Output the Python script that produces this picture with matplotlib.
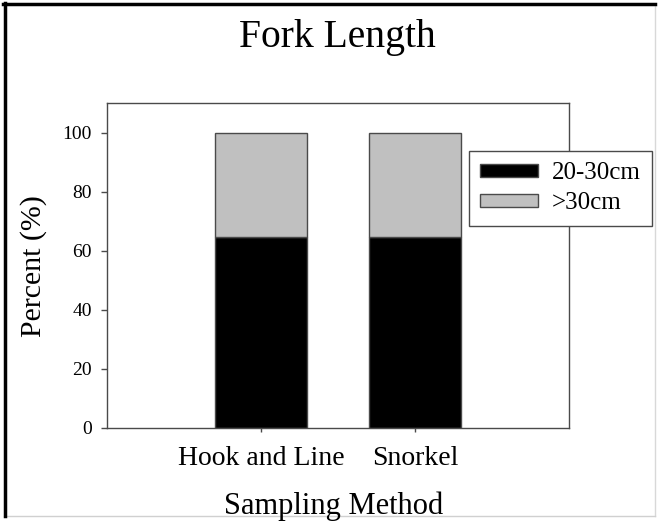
import matplotlib
matplotlib.use("Agg")
import matplotlib.pyplot as plt
from matplotlib.lines import Line2D
import numpy as np

categories = ["Hook and Line", "Snorkel"]
small = [64.5, 64.6]      # 20-30cm
large = [35.2, 35.4]      # >30cm
series_labels = ["20-30cm", ">30cm"]
yticks = [0, 20, 40, 60, 80, 100]

W, H = 660, 527
fig = plt.figure(figsize=(W / 100, H / 100), dpi=100)
plt.rcParams['font.family'] = ['Liberation Serif', 'DejaVu Serif']

ax = fig.add_axes([107 / W, 1 - 428 / H, (569 - 107) / W, (428 - 103) / H])
x = np.arange(1, len(categories) + 1)
edge = "#4a4a4a"
ax.bar(x, small, width=0.6, color="black", edgecolor=edge, linewidth=1, label=series_labels[0])
ax.bar(x, large, width=0.6, bottom=small, color="#c0c0c0", edgecolor=edge, linewidth=1, label=series_labels[1])
ax.set_xlim(0, 3)
ax.set_ylim(0, 110)
ax.set_yticks(yticks)
ax.set_yticklabels([str(v) for v in yticks], fontsize=14)
ax.set_xticks(x)
ax.set_xticklabels(categories, fontsize=20)
for s in ax.spines.values():
    s.set_color(edge)
    s.set_linewidth(1)
ax.tick_params(axis='y', direction='out', length=4.3, width=1, color=edge, pad=6.5)
ax.tick_params(axis='x', direction='out', length=3, width=1, color=edge, pad=10)

leg = ax.legend(loc='upper left', bbox_to_anchor=(469 / W, 1 - 151 / H), bbox_transform=fig.transFigure,
                borderaxespad=0, fontsize=18, frameon=True, fancybox=False, framealpha=1,
                edgecolor=edge, handlelength=2.3, handleheight=0.4, handletextpad=0.55,
                labelspacing=0.32, borderpad=0.45)
leg.get_frame().set_linewidth(1)

fig.text(337 / W, 1 - 47 / H, "Fork Length", fontsize=28.5, ha='center', va='baseline')
fig.text(334 / W, 1 - 514 / H, "Sampling Method", fontsize=22, ha='center', va='baseline')
fig.text(33.5 / W, 1 - 266 / H, "Percent (%)", fontsize=21.5, ha='center', va='center', rotation=90)

# outer frame
def fline(x0, y0, x1, y1, **kw):
    fig.add_artist(Line2D([x0 / W, x1 / W], [1 - y0 / H, 1 - y1 / H], transform=fig.transFigure, **kw))

fline(655, 4, 655, 516, color="#d8d8d8", lw=1)
fline(4, 516, 655, 516, color="#d0d0d0", lw=1)
fline(5, 3, 5, 516, color="black", lw=2.5)
fline(3, 4, 655, 4, color="black", lw=2.5)

fig.savefig("out.png", dpi=100)
